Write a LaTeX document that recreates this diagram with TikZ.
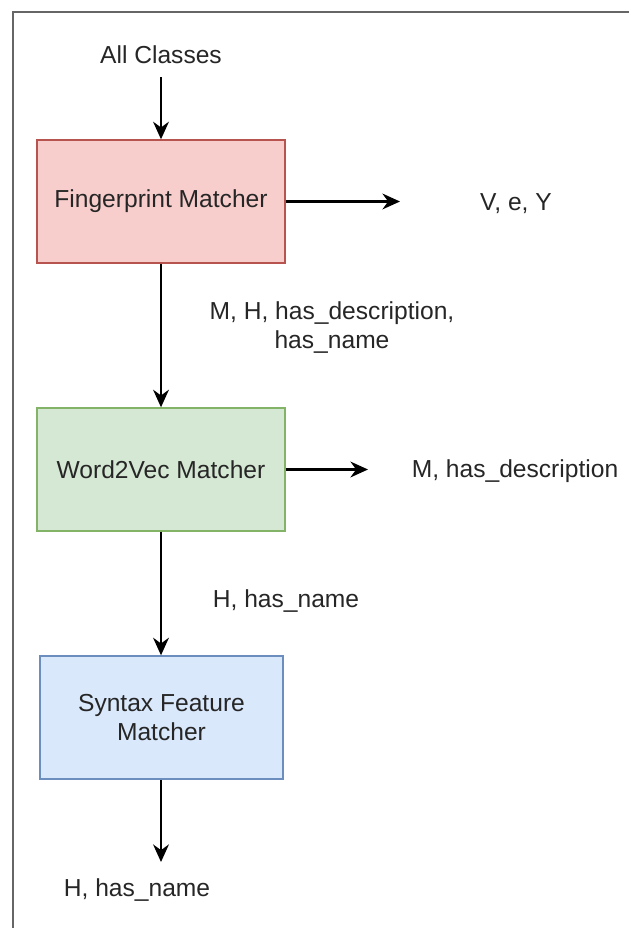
\documentclass[tikz,border=0pt]{standalone}
\usepackage{fontspec}
\setmainfont{Liberation Sans}
\usetikzlibrary{arrows.meta,positioning}

\definecolor{redfill}{HTML}{F8CECC}
\definecolor{redline}{HTML}{B85450}
\definecolor{greenfill}{HTML}{D5E8D4}
\definecolor{greenline}{HTML}{82B366}
\definecolor{bluefill}{HTML}{DAE8FC}
\definecolor{blueline}{HTML}{6C8EBF}
\definecolor{framegray}{HTML}{666666}

\tikzset{
  matcher/.style={draw, line width=0.8pt, minimum width=4.96cm, minimum height=2.46cm,
    align=center, font=\fontsize{14}{16.5}\selectfont, text=black!85},
  flow/.style={-{Stealth[length=10pt,width=9pt]}, line width=1.2pt},
  lbl/.style={align=center, font=\fontsize{14}{16.5}\selectfont, text=black!85}
}

\begin{document}
\begin{tikzpicture}[x=0.02cm,y=-0.02cm]
\useasboundingbox (0,0) rectangle (629,928);

% frame
\draw[framegray, line width=1.1pt] (13,928) -- (13,12) -- (629,12);

% matchers
\node[matcher, fill=redfill, draw=redline] (fp) at (161,201.5) {Fingerprint Matcher};
\node[matcher, fill=greenfill, draw=greenline] (w2v) at (161,469.5) {Word2Vec Matcher};
\node[matcher, fill=bluefill, draw=blueline, minimum width=4.86cm] (syn) at (161.5,717.5) {Syntax Feature\\Matcher};

% labels
\node[lbl] (all) at (161,55) {All Classes};
\node[lbl] (vey) at (516,204) {V, e, Y};
\node[lbl] (mhhh) at (332,328) {M, H, has\_description,\\has\_name};
\node[lbl] (mhd) at (515,471) {M, has\_description};
\node[lbl] (hhn) at (286,601) {H, has\_name};
\node[lbl] (out) at (137,890) {H, has\_name};

\coordinate (veyend) at (400,201.5);
\coordinate (mhdend) at (368,469.5);
\coordinate (outend) at (161,862);

% arrows
\draw[flow, shorten <=0.14cm] (all.south) -- (fp.north);
\draw[flow] (fp.east) -- (veyend);
\draw[flow] (fp.south) -- (w2v.north);
\draw[flow] (w2v.east) -- (mhdend);
\draw[flow] (w2v.south) -- (w2v.south |- syn.north);
\draw[flow] (syn.south -| w2v.south) -- (outend);
\end{tikzpicture}
\end{document}
